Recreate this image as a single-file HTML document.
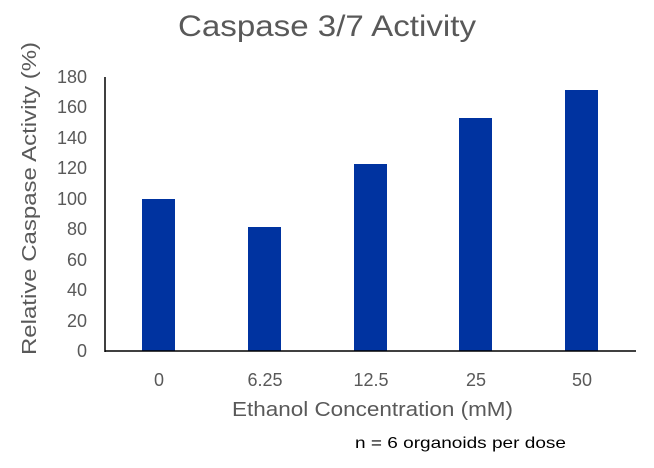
<!DOCTYPE html>
<html><head><meta charset="utf-8"><style>
html,body{margin:0;padding:0;background:#fff;}
svg text{font-family:"Liberation Sans",sans-serif;fill:#595959;}
</style></head><body>
<svg width="654" height="463" viewBox="0 0 654 463" xmlns="http://www.w3.org/2000/svg">
<rect width="654" height="463" fill="#fff"/>
<text x="178" y="36" font-size="30" textLength="298" lengthAdjust="spacingAndGlyphs">Caspase 3/7 Activity</text>
<g font-size="18" text-anchor="end">
<text x="87" y="83">180</text>
<text x="87" y="113">160</text>
<text x="87" y="144">140</text>
<text x="87" y="174">120</text>
<text x="87" y="205">100</text>
<text x="87" y="235">80</text>
<text x="87" y="266">60</text>
<text x="87" y="296">40</text>
<text x="87" y="327">20</text>
<text x="87" y="357">0</text>
</g>
<g fill="#0033A0">
<rect x="142" y="199" width="33" height="152"/>
<rect x="248" y="227" width="33" height="124"/>
<rect x="354" y="164" width="33" height="187"/>
<rect x="459" y="118" width="33" height="233"/>
<rect x="565" y="90" width="33" height="261"/>
</g>
<line x1="105" y1="77" x2="105" y2="352" stroke="#000" stroke-width="1.5"/>
<line x1="105" y1="351" x2="636" y2="351" stroke="#000" stroke-width="1.5"/>
<g font-size="18" text-anchor="middle">
<text x="159" y="386">0</text>
<text x="265" y="386">6.25</text>
<text x="371" y="386">12.5</text>
<text x="476" y="386">25</text>
<text x="582" y="386">50</text>
</g>
<text x="232" y="416" font-size="20" textLength="281" lengthAdjust="spacingAndGlyphs">Ethanol Concentration (mM)</text>
<text transform="translate(36,355) rotate(-90)" font-size="20" textLength="313" lengthAdjust="spacingAndGlyphs">Relative Caspase Activity (%)</text>
<text x="355" y="448" font-size="16" textLength="211" lengthAdjust="spacingAndGlyphs" style="fill:#000">n = 6 organoids per dose</text>
</svg>
</body></html>
